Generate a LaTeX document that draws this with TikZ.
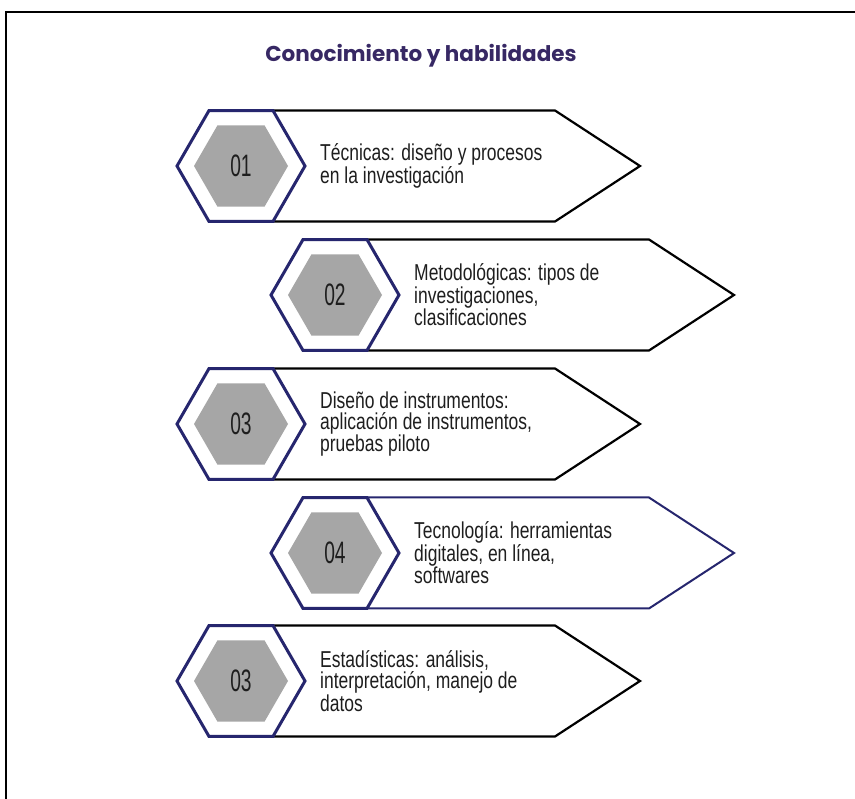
\documentclass[tikz,border=0pt]{standalone}
\usepackage{fontspec}
\setmainfont{Liberation Sans}[FakeStretch=0.76]
\newfontfamily\numfont{Liberation Sans}[FakeStretch=0.62]
\newfontfamily\titlefont{Poppins}
\usetikzlibrary{shapes.geometric}

\definecolor{navy}{RGB}{38,38,110}
\definecolor{hexgray}{RGB}{166,166,166}
\definecolor{titlepurple}{RGB}{55,40,100}
\definecolor{textdark}{RGB}{30,30,30}

\tikzset{
    outerhex/.style={regular polygon, regular polygon sides=6, minimum size=128pt, inner sep=0pt, draw=navy, line width=3pt, fill=white},
    innerhex/.style={regular polygon, regular polygon sides=6, minimum size=94pt, inner sep=0pt, fill=hexgray, text=textdark, font=\numfont\fontsize{31}{32}\selectfont},
    arrowbox/.style={draw=black, line width=2.2pt, fill=white, line join=miter},
    itemtext/.style={anchor=west, align=left, inner sep=0pt, text=textdark, font=\fontsize{23}{21}\selectfont}
}

\begin{document}
\begin{tikzpicture}[x=1pt,y=-1pt]
        \useasboundingbox (0,0) rectangle (855,799);
        \draw[line width=1.6pt] (6,799) -- (6,12) -- (855,12);

        \node[text=titlepurple, font=\titlefont\bfseries\fontsize{21.5}{24}\selectfont] (title) at (421,56) {Conocimiento y habilidades};

        % 01
        \draw[arrowbox] (274,110.5) -- ++(281,0) -- ++(85,55.5) -- ++(-85,55.5) -- ++(-281,0) -- cycle;
        \node[outerhex] (h1) at (241,166) {};
        \node[innerhex] (n1) at (h1) {01};
        \node[itemtext] (t1) at (320,166) {Técnicas: diseño y procesos\\en la investigación};

        % 02
        \draw[arrowbox] (368,239.5) -- ++(281,0) -- ++(85,55.5) -- ++(-85,55.5) -- ++(-281,0) -- cycle;
        \node[outerhex] (h2) at (335,295) {};
        \node[innerhex] (n2) at (h2) {02};
        \node[itemtext] (t2) at (414,295) {Metodológicas: tipos de\\investigaciones,\\clasificaciones};

        % 03
        \draw[arrowbox] (274,368.5) -- ++(281,0) -- ++(85,55.5) -- ++(-85,55.5) -- ++(-281,0) -- cycle;
        \node[outerhex] (h3) at (241,424) {};
        \node[innerhex] (n3) at (h3) {03};
        \node[itemtext] (t3) at (320,424) {Diseño de instrumentos:\\aplicación de instrumentos,\\pruebas piloto};

        % 04
        \draw[arrowbox, draw=navy, line width=2pt] (368,497.5) -- ++(281,0) -- ++(85,55.5) -- ++(-85,55.5) -- ++(-281,0) -- cycle;
        \node[outerhex] (h4) at (335,553) {};
        \node[innerhex] (n4) at (h4) {04};
        \node[itemtext] (t4) at (414,553) {Tecnología: herramientas\\digitales, en línea,\\softwares};

        % 05
        \draw[arrowbox] (274,625.5) -- ++(281,0) -- ++(85,55.5) -- ++(-85,55.5) -- ++(-281,0) -- cycle;
        \node[outerhex] (h5) at (241,681) {};
        \node[innerhex] (n5) at (h5) {03};
        \node[itemtext] (t5) at (320,681) {Estadísticas: análisis,\\interpretación, manejo de\\datos};
\end{tikzpicture}
\end{document}
